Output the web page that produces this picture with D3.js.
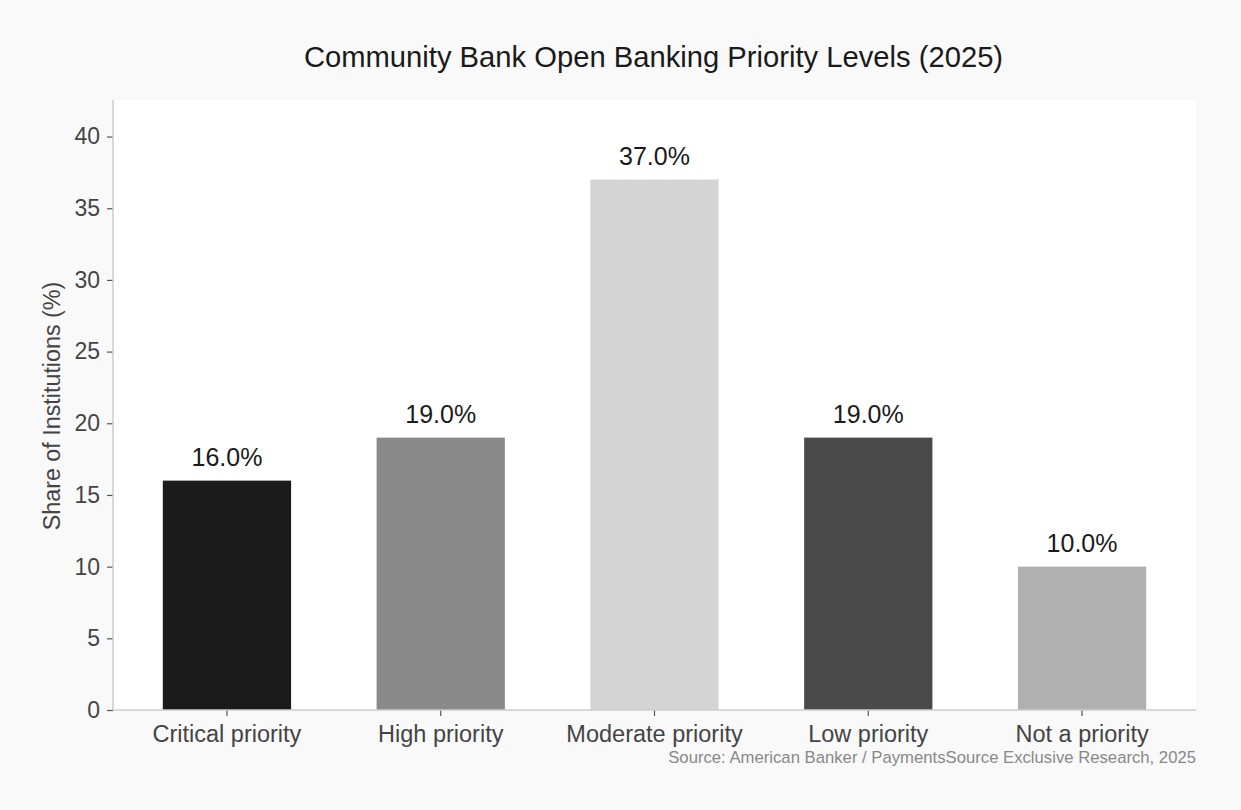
<!DOCTYPE html>
<html>
<head>
<meta charset="utf-8">
<script src="https://cdn.jsdelivr.net/npm/d3@7"></script>
<style>
  html, body { margin: 0; padding: 0; background: #f9f9f9; }
  svg, svg text { font-family: "Liberation Sans", Arial, sans-serif; }
</style>
</head>
<body>
<div id="draw"></div>
<script>
var categories = ['Critical priority', 'High priority', 'Moderate priority', 'Low priority', 'Not a priority'];
var shares = [16.0, 19.0, 37.0, 19.0, 10.0];
var barColors = ['#1b1b1b', '#8a8a8a', '#d4d4d4', '#4a4a4a', '#b0b0b0'];
var yTicks = [0, 5, 10, 15, 20, 25, 30, 35, 40];

var W = 1241, H = 810;
var margin = {top: 100, right: 45, bottom: 100, left: 113};
var innerW = W - margin.left - margin.right;
var innerH = H - margin.top - margin.bottom;

var svg = d3.select('#draw').append('svg')
    .attr('width', W).attr('height', H)
    .style('display', 'block');

svg.append('rect').attr('width', W).attr('height', H).attr('fill', '#f9f9f9');

var g = svg.append('g').attr('transform', 'translate(' + margin.left + ',' + margin.top + ')');

// plot background
g.append('rect').attr('width', innerW).attr('height', innerH).attr('fill', '#ffffff');

var x = d3.scaleBand()
    .domain(categories)
    .range([0, innerW])
    .paddingInner(0.4)
    .paddingOuter(0.233);

var y = d3.scaleLinear()
    .domain([0, d3.max(shares) * 1.15])
    .range([innerH, 0]);

// bars
g.selectAll('rect.bar')
    .data(shares)
    .enter()
    .append('rect')
    .attr('class', 'bar')
    .attr('x', function(d, i){ return x(categories[i]); })
    .attr('y', function(d){ return y(d); })
    .attr('width', x.bandwidth())
    .attr('height', function(d){ return innerH - y(d); })
    .attr('fill', function(d, i){ return barColors[i]; });

// value labels
g.selectAll('text.val')
    .data(shares)
    .enter()
    .append('text')
    .attr('class', 'val')
    .attr('x', function(d, i){ return x(categories[i]) + x.bandwidth() / 2; })
    .attr('y', function(d){ return y(d) - 15; })
    .attr('text-anchor', 'middle')
    .attr('font-size', 25)
    .attr('fill', '#1a1a1a')
    .text(function(d){ return d.toFixed(1) + '%'; });

// y axis
var yAxis = g.append('g')
    .call(d3.axisLeft(y).tickValues(yTicks).tickSize(6).tickPadding(7));
yAxis.attr('font-family', null);
yAxis.select('.domain').remove();
yAxis.selectAll('.tick line').attr('stroke', '#555').attr('stroke-width', 1.2);
yAxis.selectAll('.tick text').attr('font-size', 23).attr('fill', '#444');

// x axis
var xAxis = g.append('g')
    .attr('transform', 'translate(0,' + innerH + ')')
    .call(d3.axisBottom(x).tickSize(6).tickPadding(9));
xAxis.attr('font-family', null);
xAxis.select('.domain').remove();
xAxis.selectAll('.tick line').attr('stroke', '#555').attr('stroke-width', 1.2);
xAxis.selectAll('.tick text').attr('font-size', 23.5).attr('fill', '#444');

// spines
g.append('line').attr('x1', 0).attr('x2', 0).attr('y1', 0).attr('y2', innerH)
    .attr('stroke', '#cccccc').attr('stroke-width', 1.5);
g.append('line').attr('x1', 0).attr('x2', innerW).attr('y1', innerH).attr('y2', innerH)
    .attr('stroke', '#cccccc').attr('stroke-width', 1.5);

// y label
svg.append('text')
    .attr('transform', 'translate(60,' + (margin.top + innerH / 2 + 1) + ') rotate(-90)')
    .attr('text-anchor', 'middle')
    .attr('font-size', 23.3)
    .attr('fill', '#444')
    .text('Share of Institutions (%)');

// title
svg.append('text')
    .attr('x', margin.left + innerW / 2 - 1)
    .attr('y', 67)
    .attr('text-anchor', 'middle')
    .attr('font-size', 29.2)
    .attr('fill', '#1a1a1a')
    .text('Community Bank Open Banking Priority Levels (2025)');

// source
svg.append('text')
    .attr('x', margin.left + innerW)
    .attr('y', 763)
    .attr('text-anchor', 'end')
    .attr('font-size', 16.7)
    .attr('fill', '#888')
    .text('Source: American Banker / PaymentsSource Exclusive Research, 2025');
</script>
</body>
</html>
